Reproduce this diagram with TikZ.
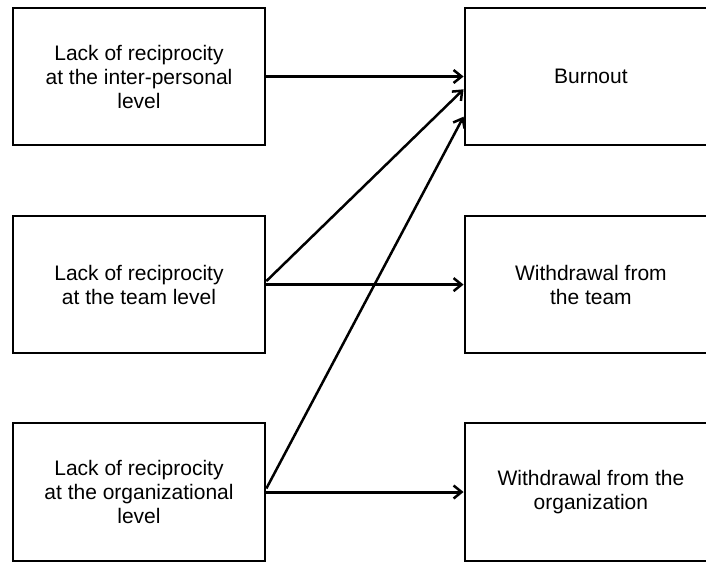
\documentclass[tikz,border=0pt]{standalone}
\usepackage{fontspec}
\setmainfont{Liberation Sans}
\usetikzlibrary{arrows.meta,calc}
\begin{document}
\begin{tikzpicture}[x=1pt,y=-1pt,
  box/.style={draw=black, line width=2pt, minimum width=252.7pt, minimum height=137.5pt,
    align=center, inner sep=0pt, font=\fontsize{21}{24}\selectfont},
  harrow/.style={line width=3pt, -{Straight Barb[length=8pt,width=13pt,line width=2.5pt]}},
  darrow/.style={line width=2.5pt, -{Straight Barb[length=8pt,width=13pt,line width=2.5pt]}}
]
\useasboundingbox (0,0) rectangle (706,562);
\node[box] (l1) at (139,76.5) {Lack of reciprocity\\at the inter-personal\\level};
\node[box] (l2) at (139,284.6) {Lack of reciprocity\\at the team level};
\node[box] (l3) at (139,492) {Lack of reciprocity\\at the organizational\\level};
\node[box] (r1) at (590.9,76.5) {Burnout};
\node[box] (r2) at (590.9,284.6) {Withdrawal from\\the team};
\node[box] (r3) at (590.9,492) {Withdrawal from the\\organization};
\draw[harrow] (l1.east) -- (r1.west);
\draw[harrow] (l2.east) -- (r2.west);
\draw[harrow] (l3.east) -- (r3.west);
\draw[darrow] ($(l2.east)+(0,-3.5)$) -- ($(r1.west)+(0,12.8)$);
\draw[darrow] ($(l3.east)+(0,-3.5)$) -- ($(r1.west)+(0,40.2)$);
\end{tikzpicture}
\end{document}
